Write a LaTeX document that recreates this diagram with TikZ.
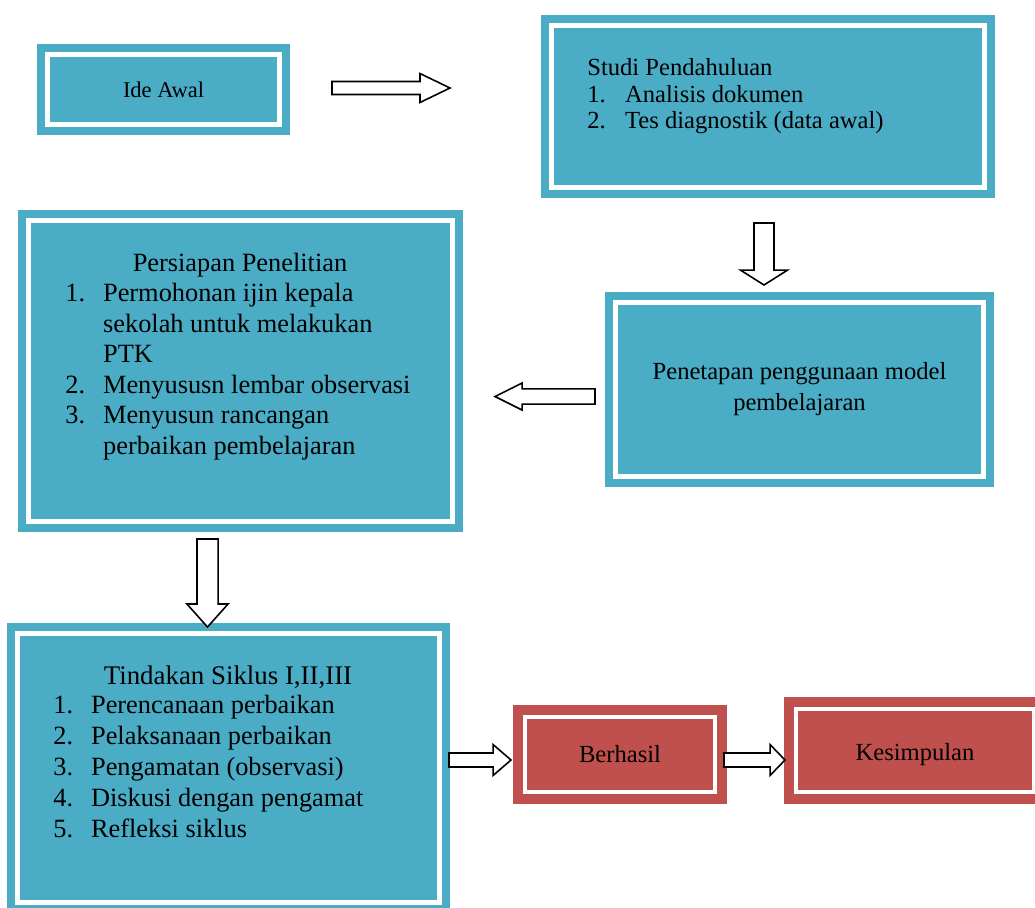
\documentclass[tikz,border=0pt]{standalone}
\usepackage{fontspec}
\setmainfont{Liberation Serif}
\usetikzlibrary{calc}
\definecolor{boxteal}{HTML}{4BACC6}
\definecolor{boxred}{HTML}{C0504D}
\newcommand{\numlbl}[1]{\makebox[21.5pt][l]{#1}}
\newcommand{\hang}{\hspace*{21.5pt}}

\begin{document}
\begin{tikzpicture}
  [x=0.02cm,y=-0.02cm,
   tealbox/.style={rectangle,fill=boxteal,draw=boxteal,line width=4.55pt,
     double=white,double distance=2.85pt,inner sep=0pt},
   redbox/.style={rectangle,fill=boxred,draw=boxred,line width=5.7pt,
     double=white,double distance=2.3pt,inner sep=0pt},
   txt/.style={inner sep=0pt,align=left,font=\fontsize{15}{17.4}\selectfont},
   blockarrow/.style n args={3}{draw=black,fill=white,line width=0.9pt,
     to path={let \p1=(\tikztostart),\p2=(\tikztotarget),
       \n1={atan2(\y2-\y1,\x2-\x1)},\n2={veclen(\x2-\x1,\y2-\y1)-#3} in
       ($(\p1)+(\n1+90:#1pt)$) -- ($(\p1)+(\n1:\n2)+(\n1+90:#1pt)$)
       -- ($(\p1)+(\n1:\n2)+(\n1+90:#2pt)$) -- (\p2)
       -- ($(\p1)+(\n1:\n2)+(\n1-90:#2pt)$) -- ($(\p1)+(\n1:\n2)+(\n1-90:#1pt)$)
       -- ($(\p1)+(\n1-90:#1pt)$) -- cycle}}]

  \useasboundingbox (0,0) rectangle (1035,907);
  \clip (0,0) rectangle (1035,907);

  % boxes
  \node[tealbox,minimum width=132pt,minimum height=39.8pt,
    font=\fontsize{12.8}{15}\selectfont] (ide) at (163.5,89.5) {Ide Awal};

  \node[tealbox,minimum width=246.4pt,minimum height=92.2pt] (studi) at (768,106.5) {};
  \node[txt,anchor=north west,font=\fontsize{14}{15.2}\selectfont] (studiText) at (587,58)
    {Studi Pendahuluan\\ \numlbl{1.}Analisis dokumen\\ \numlbl{2.}Tes diagnostik (data awal)};

  \node[tealbox,minimum width=241.3pt,minimum height=171.3pt] (persiapan) at (240.5,371) {};
  \node[txt,anchor=base] (persTitle) at (240,271) {Persiapan Penelitian};
  \node[txt,anchor=north west] (persList) at (65,283)
    {\numlbl{1.}Permohonan ijin kepala\\ \hang sekolah untuk melakukan\\ \hang PTK\\
     \numlbl{2.}Menyususn lembar observasi\\ \numlbl{3.}Menyusun rancangan\\
     \hang perbaikan pembelajaran};

  \node[tealbox,minimum width=209.4pt,minimum height=99pt,align=center,
    font=\fontsize{14}{17.6}\selectfont] (penetapan) at (799.5,389.5)
    {Penetapan penggunaan model\\pembelajaran};

  \node[tealbox,minimum width=240.1pt,minimum height=153.1pt] (tindakan) at (228.5,768) {};
  \node[txt,anchor=base,font=\fontsize{15.3}{17.6}\selectfont] (tindTitle) at (228,684)
    {Tindakan Siklus I,II,III};
  \node[txt,anchor=north west,font=\fontsize{15}{17.6}\selectfont] (tindList) at (53,695)
    {\numlbl{1.}Perencanaan perbaikan\\ \numlbl{2.}Pelaksanaan perbaikan\\
     \numlbl{3.}Pengamatan (observasi)\\ \numlbl{4.}Diskusi dengan pengamat\\
     \numlbl{5.}Refleksi siklus};

  \node[redbox,minimum width=108.1pt,minimum height=42.7pt,
    font=\fontsize{14}{17.6}\selectfont] (berhasil) at (620,754.5) {Berhasil};
  \node[redbox,minimum width=135.4pt,minimum height=47.2pt,text height=14.3pt,text depth=3pt,
    font=\fontsize{14}{17.6}\selectfont] (kesimpulan) at (915,750.5) {Kesimpulan};

  % arrow ends
  \coordinate (a1s) at (332,88);    \coordinate (a1e) at (450,88);
  \coordinate (a2s) at (764,223);   \coordinate (a2e) at (764,285);
  \coordinate (a3s) at (595,396.5); \coordinate (a3e) at (495,396.5);
  \coordinate (a4s) at (207.5,539); \coordinate (a4e) at (207.5,627);
  \coordinate (a5s) at (449,760);   \coordinate (a5e) at (511,760);
  \coordinate (a6s) at (724,760);   \coordinate (a6e) at (785,760);

  \draw[blockarrow={3.7}{8.25}{17.1}] (a1s) to (a1e);
  \draw[blockarrow={5.7}{13.4}{8.5}]  (a2s) to (a2e);
  \draw[blockarrow={4.3}{7.7}{15.4}]  (a3s) to (a3e);
  \draw[blockarrow={6.0}{11.7}{13.1}] (a4s) to (a4e);
  \draw[blockarrow={4.0}{8.8}{10.2}]  (a5s) to (a5e);
  \draw[blockarrow={4.0}{8.8}{8.5}]   (a6s) to (a6e);

\end{tikzpicture}
\end{document}
